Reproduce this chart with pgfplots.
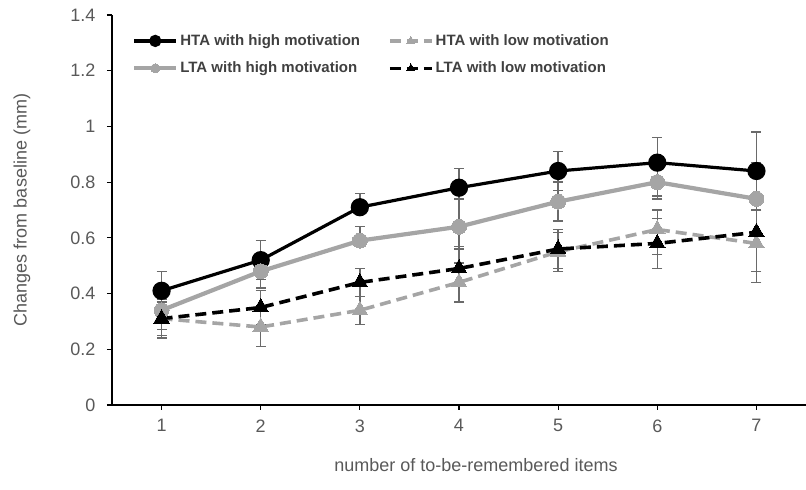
\documentclass[border=0pt]{standalone}
\usepackage{fontspec}
\setmainfont{Liberation Sans}
\usepackage{pgfplots}
\pgfplotsset{compat=1.18}
\definecolor{lgray}{HTML}{A5A5A5}
\definecolor{egray}{HTML}{6A6A6A}
\definecolor{tgray}{HTML}{595959}
\definecolor{legtext}{HTML}{404040}
\begin{document}
\begin{tikzpicture}
\useasboundingbox (0,0) rectangle (806pt,490pt);
\begin{axis}[
  at={(112pt,85pt)}, anchor=south west,
  scale only axis, width=694pt, height=390pt,
  xmin=0.5, xmax=7.5, ymin=0, ymax=1.4,
  xtick={1,2,3,4,5,6,7},
  ytick={0,0.2,0.4,0.6,0.8,1,1.2,1.4},
  axis x line*=bottom, axis y line*=left,
  axis line style={line width=1.6pt, black, -},
  tick style={line width=1.2pt, black},
  major tick length=5pt,
  tick align=outside,
  /pgf/number format/assume math mode=true,
  tick label style={font=\fontsize{18}{21}\selectfont, text=tgray},
  yticklabel style={xshift=-8pt},
  xticklabel style={yshift=-6pt},
  xlabel={number of to-be-remembered items},
  ylabel={Changes from baseline (mm)},
  label style={font=\fontsize{18}{21}\selectfont, text=tgray},
  x label style={at={(axis description cs:0.5245,0)}, anchor=center, yshift=-60pt},
  y label style={at={(axis description cs:-0.1297,0.5)}, anchor=center},
  legend columns=2,
  legend style={at={(0.0288,0.955)}, anchor=north west, draw=none, fill=none,
    font=\fontsize{15}{18}\selectfont\bfseries, text=legtext,
    row sep=11pt, inner sep=0pt,
    /tikz/every even column/.append style={column sep=26pt}},
  legend cell align=left,
  legend image code/.code={\draw[mark repeat=2,mark phase=2,#1,mark size=4.5pt] plot coordinates {(0pt,0pt)(21pt,0pt)(42pt,0pt)};},
  error bars/y dir=both, error bars/y explicit,
  error bars/error bar style={color=egray, line width=1.4pt, solid},
  error bars/error mark options={rotate=90, mark size=5pt, line width=1.4pt, color=egray},
]
% HTA high
\addplot[black, line width=3.2pt, mark=*, mark size=7.5pt, mark options={solid, fill=black}]
coordinates {
(1,0.41) +- (0,0.07)
(2,0.52) +- (0,0.07)
(3,0.71) += (0,0.05) -= (0,0.015)
(4,0.78) += (0,0.07) -= (0,0.04)
(5,0.84) +- (0,0.07)
(6,0.87) += (0,0.09) -= (0,0.12)
(7,0.84) +- (0,0.14)
};
\addlegendentry{HTA with high motivation}
% HTA low
\addplot[lgray, line width=3.6pt, dash pattern=on 11pt off 6pt, mark=triangle*, mark size=9pt, mark options={solid, fill=lgray, draw=lgray, line width=0pt}]
coordinates {
(1,0.31) +- (0,0.06)
(2,0.28) +- (0,0.07)
(3,0.34) +- (0,0.05)
(4,0.44) +- (0,0.07)
(5,0.55) +- (0,0.07)
(6,0.63) += (0,0.07) -= (0,0.09)
(7,0.58) +- (0,0.14)
};
\addlegendentry{HTA with low motivation}
% LTA high
\addplot[lgray, line width=4.2pt, mark=*, mark size=7.5pt, mark options={solid, fill=lgray, draw=lgray, line width=0pt}]
coordinates {
(1,0.34) +- (0,0.07)
(2,0.48) +- (0,0.06)
(3,0.59) += (0,0.05) -= (0,0.02)
(4,0.64) += (0,0.10) -= (0,0.08)
(5,0.73) +- (0,0.07)
(6,0.80) += (0,0.09) -= (0,0.06)
(7,0.74) +- (0,0.13)
};
\addlegendentry{LTA with high motivation}
% LTA low
\addplot[black, line width=3.6pt, dash pattern=on 11pt off 6pt, mark=triangle*, mark size=9pt, mark options={solid, fill=black, line width=0pt}]
coordinates {
(1,0.31) +- (0,0.07)
(2,0.35) +- (0,0.06)
(3,0.44) +- (0,0.05)
(4,0.49) += (0,0.08) -= (0,0.05)
(5,0.56) +- (0,0.07)
(6,0.58) +- (0,0.09)
(7,0.62) +- (0,0.14)
};
\addlegendentry{LTA with low motivation}
\end{axis}
\end{tikzpicture}
\end{document}
